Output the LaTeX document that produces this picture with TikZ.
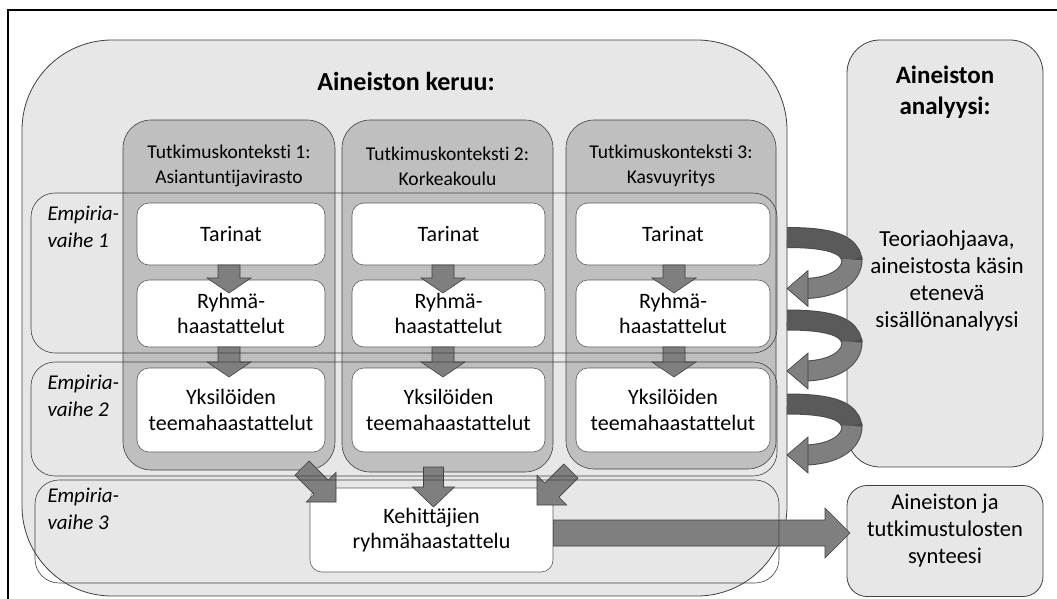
\documentclass[tikz,border=0pt]{standalone}
\usepackage{fontspec}
\setmainfont{Carlito}[Ligatures=NoCommon]
\usetikzlibrary{calc}

\definecolor{paleg}{HTML}{E7E7E7}
\definecolor{midg}{HTML}{BFBFBF}
\definecolor{arrg}{HTML}{7F7F7F}
\definecolor{arrdark}{HTML}{5A5A5A}
\definecolor{edge}{HTML}{404040}

\tikzset{
  bigbox/.style={draw=edge, fill=paleg, line width=0.8pt, inner sep=0pt},
  ctxbox/.style={draw=edge, fill=midg, rounded corners=28pt, line width=0.6pt, inner sep=0pt},
  band/.style={draw=edge, rounded corners=24pt, line width=0.6pt, inner sep=0pt},
  stepbox/.style={draw=edge!85, fill=white, rounded corners=12pt, line width=0.6pt,
                  align=center, inner sep=0pt, font=\fontsize{22}{25.5}\selectfont},
  arrowfill/.style={fill=arrg, draw=black!75, line width=0.6pt},
  ctxtitle/.style={align=center, font=\fontsize{19.5}{25}\selectfont},
  phase/.style={anchor=west, align=left, font=\itshape\fontsize{21}{26.5}\selectfont},
  bodytext/.style={align=center, font=\fontsize{22.5}{27}\selectfont},
}

% straight block arrow: tail, tip, shaft half width, head half width, head length
\newcommand{\blockarrow}[5]{%
  \coordinate (ba-h) at ($(#2)!#5!(#1)$);
  \filldraw[arrowfill] ($(#1)!#3!90:(#2)$) -- ($(ba-h)!#3!90:(#2)$) -- ($(ba-h)!#4!90:(#2)$)
    -- (#2) -- ($(ba-h)!#4!-90:(#2)$) -- ($(ba-h)!#3!-90:(#2)$) -- ($(#1)!#3!-90:(#2)$) -- cycle;
}

% curved return arrow from the data collection box to the analysis box and back
\newcommand{\turnarrow}[1]{%
  \coordinate (ta-s) at (787,#1);
  \coordinate (ta-m) at (852,#1+22);
  \coordinate (ta-e) at (806,#1+51);
  \coordinate (ta-t) at (787,#1+51);
  \draw[line width=21pt, draw=black!70] (ta-s) .. controls (834,#1) and (849,#1+8) .. (ta-m)
       .. controls (852,#1+38) and (835,#1+50) .. (ta-e);
  \draw[line width=19pt, draw=arrdark] (ta-s) .. controls (834,#1) and (849,#1+8) .. (ta-m);
  \draw[line width=19pt, draw=arrg] (ta-m) .. controls (852,#1+38) and (835,#1+50) .. (ta-e);
  \filldraw[arrowfill] ($(ta-e)+(2,-18)$) -- (ta-t) -- ($(ta-e)+(2,18)$) -- cycle;
}

\begin{document}
\begin{tikzpicture}[x=1pt, y=-1pt]
\useasboundingbox (0,0) rectangle (1057,598);

% page frame
\draw[line width=2pt, line cap=rect] (8,598) -- (8,10) -- (1057,10);

% main containers
\node[bigbox, rounded corners=90pt, minimum width=765pt, minimum height=556pt] (keruu) at (404.5,318) {};
\node[bigbox, rounded corners=33pt, minimum width=196pt, minimum height=427pt] (analyysi) at (945,253.5) {};
\node[bigbox, rounded corners=20pt, minimum width=196pt, minimum height=111pt] (synteesi) at (945,541) {};
\node[bodytext] (stext) at (945,530.5) {Aineiston ja\\tutkimustulosten\\synteesi};

% research context columns
\node[ctxbox, minimum width=212pt, minimum height=350pt] (col1) at (229,295) {};
\node[ctxbox, minimum width=211pt, minimum height=352pt] (col2) at (447.5,296) {};
\node[ctxbox, minimum width=210pt, minimum height=349pt] (col3) at (671,294.5) {};

% developers' group interview
\node[stepbox, minimum width=243pt, minimum height=84pt] (kehit) at (431.5,530)
  {Kehittäjien\\ryhmähaastattelu};

% arrow to the synthesis
\coordinate (sa0) at ($(kehit.east)+(0,3)$);
\coordinate (sa1) at (850,533);
\blockarrow{sa0}{sa1}{13pt}{25pt}{25pt}

% steps inside each context
\node[stepbox, minimum width=188pt, minimum height=62pt] (t1) at (231,234) {Tarinat};
\node[stepbox, minimum width=188pt, minimum height=67pt] (r1) at (231,313.5) {Ryhmä-\\haastattelut};
\node[stepbox, minimum width=188pt, minimum height=84pt] (y1) at (231,410) {Yksilöiden\\teemahaastattelut};

\node[stepbox, minimum width=193pt, minimum height=62pt] (t2) at (448.5,234) {Tarinat};
\node[stepbox, minimum width=193pt, minimum height=67pt] (r2) at (448.5,313.5) {Ryhmä-\\haastattelut};
\node[stepbox, minimum width=193pt, minimum height=84pt] (y2) at (448.5,410) {Yksilöiden\\teemahaastattelut};

\node[stepbox, minimum width=194pt, minimum height=62pt] (t3) at (673,234) {Tarinat};
\node[stepbox, minimum width=194pt, minimum height=67pt] (r3) at (673,313.5) {Ryhmä-\\haastattelut};
\node[stepbox, minimum width=194pt, minimum height=84pt] (y3) at (673,410) {Yksilöiden\\teemahaastattelut};

% downward arrows between the steps
\foreach \c/\x in {1/229,2/443,3/674}{
  \coordinate (da\c) at (\x,265);
  \coordinate (db\c) at (\x,293);
  \coordinate (dc\c) at (\x,347);
  \coordinate (dd\c) at (\x,377);
  \blockarrow{da\c}{db\c}{11pt}{22pt}{15pt}
  \blockarrow{dc\c}{dd\c}{11pt}{22pt}{15pt}
}

% arrows from the contexts into the developers' interview
\coordinate (k1a) at (302,468);
\coordinate (k1b) at (336,502);
\blockarrow{k1a}{k1b}{10pt}{21pt}{21pt}
\coordinate (k2a) at (433.5,467);
\coordinate (k2b) at (433.5,507);
\blockarrow{k2a}{k2b}{10pt}{21pt}{20pt}
\coordinate (k3a) at (571,471);
\coordinate (k3b) at (537,505);
\blockarrow{k3a}{k3b}{10pt}{21pt}{21pt}

% empirical phase bands
\node[band, minimum width=746pt, minimum height=160pt] (e1) at (404,273) {};
\node[band, minimum width=746pt, minimum height=114pt] (e2) at (404,419) {};
\node[band, minimum width=744pt, minimum height=103pt] (e3) at (407,531.5) {};

% iterative analysis arrows
\turnarrow{237.5}
\turnarrow{320}
\turnarrow{404}

% labels
\node[font=\bfseries\fontsize{26}{30}\selectfont] (ktitle) at (406,81) {Aineiston keruu:};
\node[align=center, font=\bfseries\fontsize{25}{31}\selectfont] (atitle) at (945,92) {Aineiston\\analyysi:};
\node[align=center, font=\fontsize{23}{27}\selectfont] (atext) at (947,281) {Teoriaohjaava,\\aineistosta käsin\\etenevä\\sisällönanalyysi};

\node[ctxtitle] (c1t) at (229,166) {Tutkimuskonteksti 1:\\Asiantuntijavirasto};
\node[ctxtitle] (c2t) at (447.5,166) {Tutkimuskonteksti 2:\\Korkeakoulu};
\node[ctxtitle] (c3t) at (671,166) {Tutkimuskonteksti 3:\\Kasvuyritys};

\node[phase] (p1) at (44,227) {Empiria-\\vaihe 1};
\node[phase] (p2) at (44,396) {Empiria-\\vaihe 2};
\node[phase] (p3) at (44,509) {Empiria-\\vaihe 3};
\end{tikzpicture}
\end{document}
